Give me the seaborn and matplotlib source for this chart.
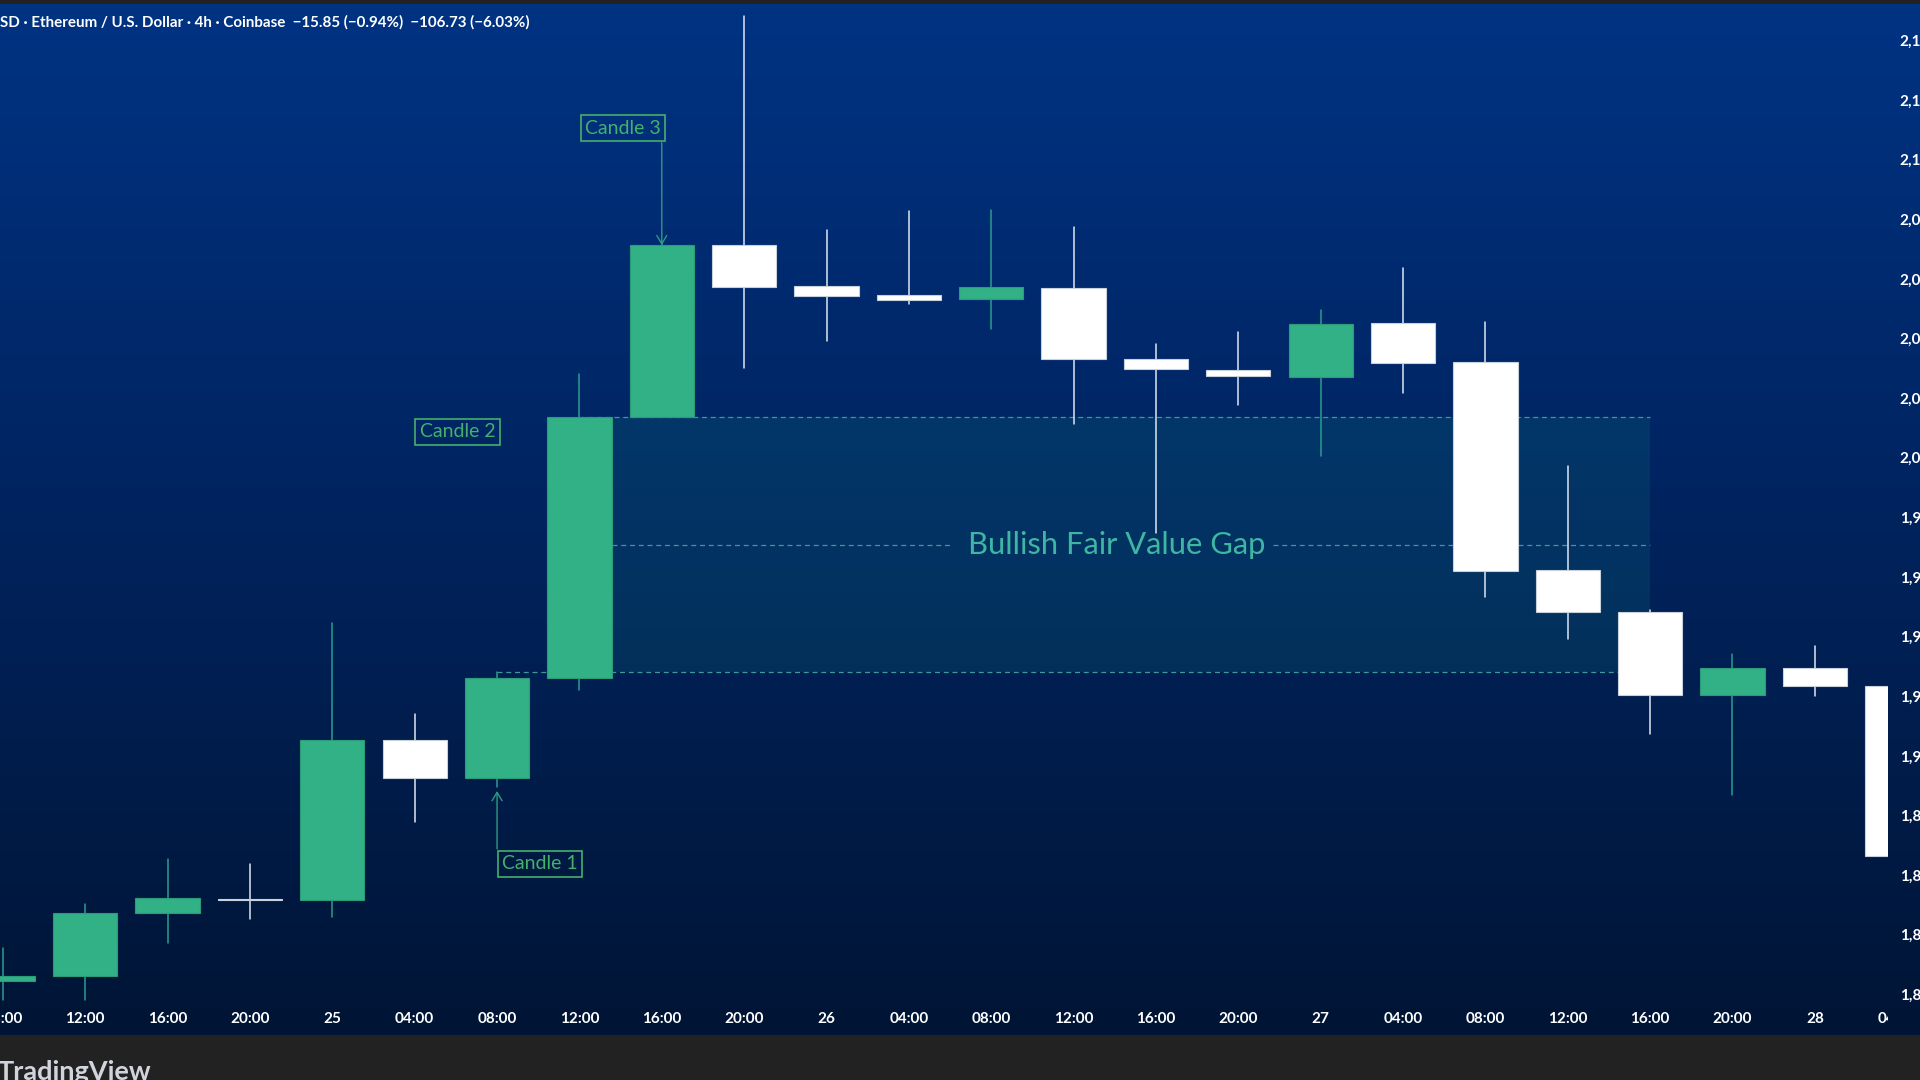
import numpy as np
import pandas as pd
import matplotlib
matplotlib.use("Agg")
import matplotlib.pyplot as plt
from matplotlib.colors import LinearSegmentedColormap
from matplotlib.patches import Rectangle
from matplotlib.ticker import FuncFormatter
import seaborn as sns

# ETH/USD 4h candles, 24 May 08:00 -> 28 May 04:00 (Coinbase)
times = ["08:00", "12:00", "16:00", "20:00", "25", "04:00", "08:00", "12:00",
         "16:00", "20:00", "26", "04:00", "08:00", "12:00", "16:00", "20:00",
         "27", "04:00", "08:00", "12:00", "16:00", "20:00", "28", "04:00"]
opens = [1824.4, 1826.1, 1847.2, 1852.1, 1851.6, 1905.3, 1892.7, 1926.1,
         2013.5, 2071.4, 2057.6, 2054.5, 2053.1, 2056.8, 2033.2, 2029.5,
         2027.2, 2045.1, 2032.1, 1962.2, 1948.2, 1920.3, 1929.4, 1923.6]
highs = [1835.6, 1850.3, 1865.4, 1863.6, 1944.5, 1914.1, 1928.0, 2028.1,
         2071.6, 2148.2, 2076.4, 2082.8, 2083.1, 2077.4, 2038.1, 2042.1,
         2049.6, 2063.6, 2045.4, 1997.1, 1948.8, 1934.1, 1936.7, 1926.0]
lows = [1818.0, 1818.1, 1837.3, 1845.2, 1845.8, 1877.9, 1889.7, 1922.1,
        2013.5, 2030.2, 2039.3, 2051.6, 2043.2, 2011.2, 1974.7, 2017.8,
        2000.7, 2021.8, 1953.2, 1939.3, 1907.4, 1887.0, 1920.2, 1858.0]
closes = [1826.2, 1847.4, 1852.2, 1851.5, 1905.3, 1892.7, 1926.1, 2013.5,
          2071.3, 2057.4, 2054.3, 2053.0, 2057.2, 2033.0, 2029.7, 2027.4,
          2045.0, 2031.9, 1962.1, 1948.1, 1920.3, 1929.4, 1923.6, 1866.5]
price_ticks = list(range(1820, 2141, 20))

# the three candles of the gap and the candle where the zone ends
candle_tags = ["Candle 1", "Candle 2", "Candle 3"]
tag_candles = [6, 7, 8]
fvg_end = 20
fvg_label = "Bullish Fair Value Gap"

header = "SD \u00b7 Ethereum / U.S. Dollar \u00b7 4h \u00b7 Coinbase  \u221215.85 (\u22120.94%)  \u2212106.73 (\u22126.03%)"

GREEN = "#32b086"
GREEN_EDGE = "#2a9c78"
GREEN_WICK = "#2a9d8f"
WHITE = "#ffffff"
WHITE_EDGE = "#c8d0dc"
WHITE_WICK = "#dfe6f2"
TAG = "#45b06c"
TAG_ARROW = "#2f9a80"
FVG_TXT = "#3fb5a4"
FVG_LINE = "#3a9a9a"

sns.set_theme(style="white")
plt.rcParams["font.family"] = ["Lato", "DejaVu Sans"]

W, H = 1920, 1080
STEP = 82.36   # px per candle
X0 = 2.9       # px of first candle centre


def fbox(x0, y0, x1, y1):
    return [x0 / W, 1 - y1 / H, (x1 - x0) / W, (y1 - y0) / H]


fig = plt.figure(figsize=(W / 100, H / 100), dpi=100, facecolor="#222222")

# gradient background
ax_bg = fig.add_axes(fbox(0, 4, W, 1035), zorder=0)
cmap = LinearSegmentedColormap.from_list("tv", ["#003383", "#00235e", "#001535"])
ax_bg.imshow(np.linspace(0, 1, 256).reshape(-1, 1), aspect="auto", cmap=cmap,
             extent=[0, 1, 0, 1], origin="upper")
ax_bg.axis("off")

ax = fig.add_axes(fbox(0, 4, 1888, 1003), zorder=2)
ax.set_facecolor("none")

df = pd.DataFrame({"idx": np.arange(len(times)), "open": opens, "high": highs,
                   "low": lows, "close": closes})
df["dir"] = np.where(df["close"] >= df["open"], "up", "down")
df["bottom"] = df[["open", "close"]].min(axis=1)
df["body"] = (df["close"] - df["open"]).abs().clip(lower=0.6)

# wicks
wicks = pd.DataFrame({
    "x": np.repeat(df["idx"].to_numpy(), 2),
    "price": np.column_stack([df["low"], df["high"]]).ravel(),
    "candle": np.repeat(df["idx"].to_numpy(), 2),
    "dir": np.repeat(df["dir"].to_numpy(), 2),
})
sns.lineplot(data=wicks, x="x", y="price", units="candle", estimator=None,
             hue="dir", palette={"up": GREEN_WICK, "down": WHITE_WICK},
             linewidth=1.1, legend=False, sort=False, ax=ax, zorder=2)

# bodies
for d, col, edge in [("up", GREEN, GREEN_EDGE), ("down", WHITE, WHITE_EDGE)]:
    sub = df[df["dir"] == d].sort_values("idx")
    sns.barplot(data=sub, x="idx", y="body", native_scale=True, width=0.78,
                color=col, saturation=1, errorbar=None,
                bottom=sub["bottom"].to_numpy(), edgecolor=edge, linewidth=0.8,
                zorder=3, ax=ax)

# fair value gap zone
gap_lo = highs[tag_candles[0]]
gap_hi = lows[tag_candles[2]]
gap_mid = (gap_lo + gap_hi) / 2
zone_x0 = tag_candles[1] + 0.39
ax.add_patch(Rectangle((zone_x0, gap_lo), fvg_end - zone_x0, gap_hi - gap_lo,
                       facecolor="#0b6f7a", alpha=0.22, edgecolor="none", zorder=1))
dash = dict(color=FVG_LINE, linewidth=0.9, linestyle=(0, (4, 3)), zorder=1.5)
ax.plot([tag_candles[1], fvg_end], [gap_hi, gap_hi], **dash)
ax.plot([tag_candles[0], fvg_end], [gap_lo, gap_lo], **dash)
ax.plot([zone_x0, 11.53], [gap_mid, gap_mid], **dash)
ax.plot([15.42, fvg_end], [gap_mid, gap_mid], **dash)
ax.text(13.52, gap_mid, fvg_label, ha="center", va="center", color=FVG_TXT,
        fontsize=22.2, zorder=4)

# candle tags
tag_pos = {"Candle 1": (6.525, 1863.8), "Candle 2": (5.52, 2008.7),
           "Candle 3": (7.527, 2110.6)}
for name in candle_tags:
    ax.text(*tag_pos[name], name, ha="center", va="center", color=TAG,
            fontsize=14, zorder=5,
            bbox=dict(boxstyle="square,pad=0.22", fc="none", ec=TAG, lw=1.2))
arrow = dict(arrowstyle="->,head_length=0.5,head_width=0.3", color=TAG_ARROW,
             lw=1.0, shrinkA=0, shrinkB=0)
ax.annotate("", xy=(tag_candles[2], closes[tag_candles[2]]),
            xytext=(tag_candles[2], 2105.7), arrowprops=arrow, zorder=5)
ax.annotate("", xy=(tag_candles[0], lows[tag_candles[0]] - 1.5),
            xytext=(tag_candles[0], 1868.8), arrowprops=arrow, zorder=5)

ax.set_xlim(-X0 / STEP, (1888 - X0) / STEP)
ax.set_ylim(1817.1, 2152.2)
ax.set_xlabel("")
ax.set_ylabel("")
ax.set_xticks([])
ax.yaxis.tick_right()
ax.set_yticks(price_ticks)
ax.yaxis.set_major_formatter(FuncFormatter(lambda v, p: f"{v:,.0f}"))
ax.tick_params(axis="y", length=0, pad=8.5, labelsize=11, labelcolor="white")
for lbl in ax.get_yticklabels():
    lbl.set_fontweight("bold")
for s in ax.spines.values():
    s.set_visible(False)
ax.grid(False)

# time axis band
ax_t = fig.add_axes(fbox(0, 1003, 1888, 1035), zorder=2)
ax_t.set_xlim(ax.get_xlim())
ax_t.set_ylim(0, 1)
ax_t.axis("off")
for i, t in enumerate(times):
    ax_t.text(i, 0.5, t, ha="center", va="center", color="white", fontsize=11,
              fontweight="bold", clip_on=True)

fig.text(0.5 / W, 1 - 22 / H, header, color="white", fontsize=10.9,
         fontweight="bold", ha="left", va="center")
fig.text(-2 / W, 0, "TradingView", color="#d1d4dc", fontsize=19.5,
         fontweight="bold", ha="left", va="baseline")

fig.savefig("out.png", dpi=100, facecolor=fig.get_facecolor())
